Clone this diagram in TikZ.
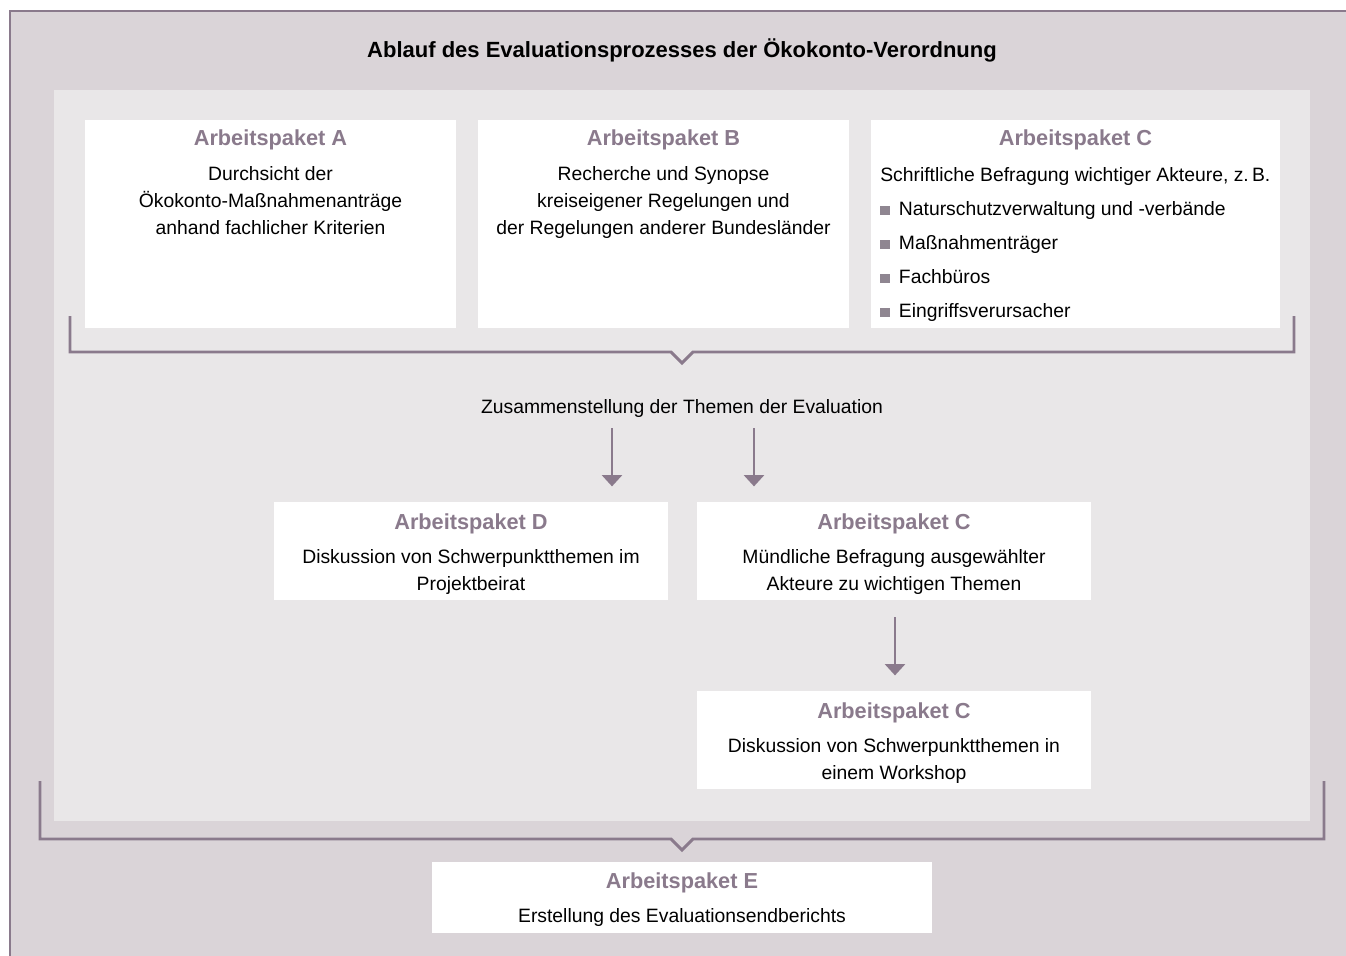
\documentclass[tikz,border=0pt]{standalone}
\usepackage{fontspec}
\setmainfont{Liberation Sans}
\usetikzlibrary{arrows.meta,positioning,fit}
\definecolor{frameback}{RGB}{218,212,216}
\definecolor{innerback}{RGB}{233,231,232}
\definecolor{paketmauve}{RGB}{138,122,140}
\definecolor{bulletgray}{RGB}{143,134,145}
\newcommand{\quadrat}{\textcolor{bulletgray}{\rule{7.4pt}{7pt}}\hspace{6.6pt}}

\tikzset{
  pkt/.style={fill=white, draw=none, inner sep=0pt},
  kopf/.style={font=\bfseries\fontsize{16.3}{20}\selectfont, text=paketmauve, anchor=base, inner sep=0pt},
  txt/.style={font=\fontsize{14.5}{20.25}\selectfont, align=center, anchor=base, inner sep=0pt},
  klammer/.style={draw=paketmauve, line width=2.2pt},
  pfeil/.style={draw=paketmauve, line width=2pt, -{Triangle[width=15pt,length=8.5pt]}},
}

\begin{document}
\begin{tikzpicture}[x=0.75pt,y=-0.75pt]
\useasboundingbox (0,0) rectangle (1346,956);
\clip (0,0) rectangle (1346,956);
% background and frame
\fill[frameback] (10,11) rectangle (1360,970);
\draw[paketmauve, line width=1.1pt] (10,970) -- (10,11) -- (1360,11);
\fill[innerback] (54,90) rectangle (1310,821);

\node[font=\bfseries\fontsize{16.5}{20}\selectfont, anchor=base, inner sep=0pt] (titel) at (682,58)
  {Ablauf des Evaluationsprozesses der Ökokonto-Verordnung};

% first row of work packages
\node[pkt, fit={(85,120) (456,328)}] (aBox) {};
\node[pkt, fit={(478,120) (849,328)}] (bBox) {};
\node[pkt, fit={(871,120) (1280,328)}] (cBox) {};

% multi-line texts sit on the baseline of their last line
\node[kopf] (aKopf) at (270.5,146) {Arbeitspaket A};
\node[txt] (aText) at (270.5,234) {Durchsicht der\\Ökokonto-Maßnahmenanträge\\anhand fachlicher Kriterien};
\node[kopf] (bKopf) at (663.5,146) {Arbeitspaket B};
\node[txt] (bText) at (663.5,234) {Recherche und Synopse\\kreiseigener Regelungen und\\der Regelungen anderer Bundesländer};
\node[kopf] (cKopf) at (1075.5,146) {Arbeitspaket C};
\node[txt, align=left, anchor=base west, font=\fontsize{14.5}{25.5}\selectfont] (cText) at (880,317)
  {Schriftliche Befragung wichtiger Akteure, z.\,B.\\
   \quadrat Naturschutzverwaltung und -verbände\\
   \quadrat Maßnahmenträger\\
   \quadrat Fachbüros\\
   \quadrat Eingriffsverursacher};

% bracket under the first row
\draw[klammer] (70,316) -- (70,352) -- (671,352) -- (682,363) -- (693,352) -- (1294,352) -- (1294,316);

\node[txt] (themen) at (682,413) {Zusammenstellung der Themen der Evaluation};

% second row
\node[pkt, fit={(274,502) (668,600)}] (dBox) {};
\node[pkt, fit={(697,502) (1091,600)}] (c2Box) {};
\node[pkt, fit={(697,691) (1091,789)}] (c3Box) {};

\node[kopf] (dKopf) at (471,529) {Arbeitspaket D};
\node[txt] (dText) at (471,590) {Diskussion von Schwerpunktthemen im\\Projektbeirat};
\node[kopf] (c2Kopf) at (894,529) {Arbeitspaket C};
\node[txt] (c2Text) at (894,590) {Mündliche Befragung ausgewählter\\Akteure zu wichtigen Themen};
\node[kopf] (c3Kopf) at (894,718) {Arbeitspaket C};
\node[txt] (c3Text) at (894,779) {Diskussion von Schwerpunktthemen in\\einem Workshop};

\coordinate (p1) at (612,428);
\coordinate (p2) at (754,428);
\coordinate (p3) at (895,617);
\draw[pfeil, shorten >=11.5pt] (p1) -- (p1 |- dBox.north);
\draw[pfeil, shorten >=11.5pt] (p2) -- (p2 |- c2Box.north);
\draw[pfeil, shorten >=11.5pt] (p3) -- (p3 |- c3Box.north);

% bracket round everything
\draw[klammer] (40,781) -- (40,839) -- (671,839) -- (682,850) -- (693,839) -- (1324,839) -- (1324,781);

\node[pkt, fit={(432,862) (932,933)}] (eBox) {};
\node[kopf] (eKopf) at (682,888) {Arbeitspaket E};
\node[txt] (eText) at (682,922) {Erstellung des Evaluationsendberichts};
\end{tikzpicture}
\end{document}
